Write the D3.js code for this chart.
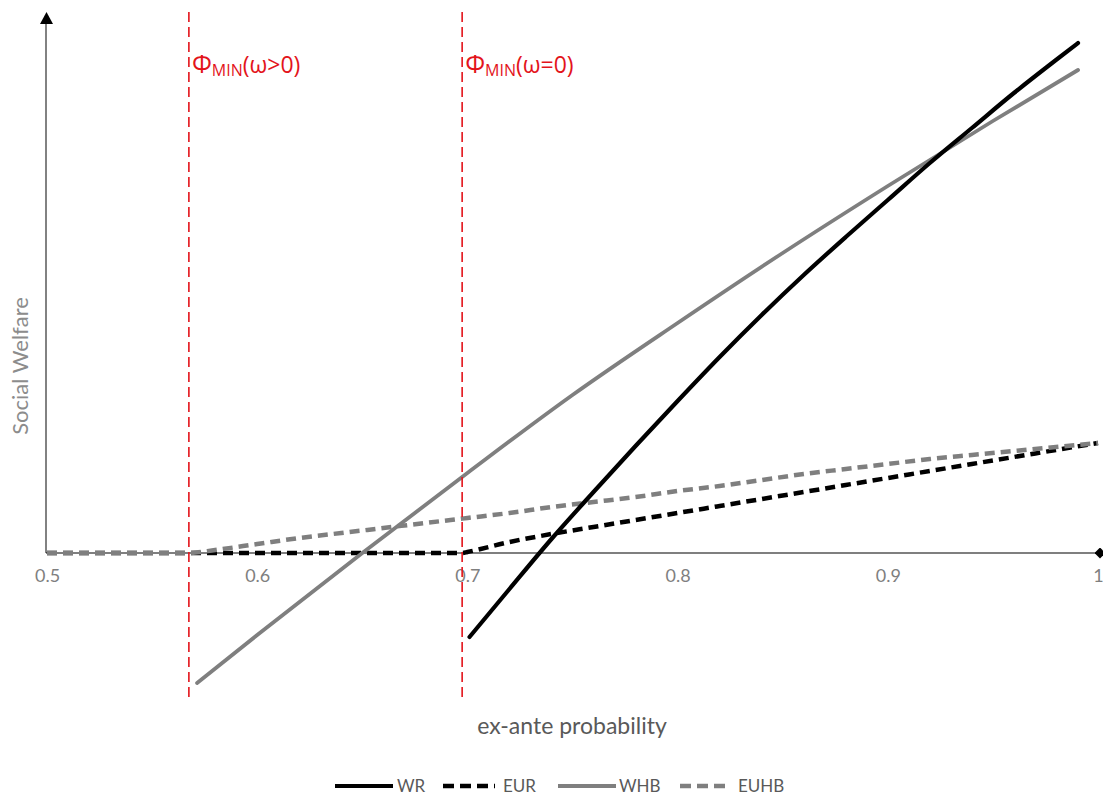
<!DOCTYPE html>
<html>
<head>
<meta charset="utf-8">
<script src="https://cdn.jsdelivr.net/npm/d3@7/dist/d3.min.js"></script>
<style>
  html, body { margin: 0; padding: 0; background: #fff; }
  svg { display: block; font-family: Lato, "Open Sans", sans-serif; }
</style>
</head>
<body>
<div id="chart"></div>
<script>
// x ticks and threshold probabilities
const xTicks = [0.5, 0.6, 0.7, 0.8, 0.9, 1];
const phiMin = [
  { x: 0.5675, label: 'ω>0' },
  { x: 0.6975, label: 'ω=0' }
];

// series values (arbitrary welfare units)
const wrX  = [0.701, 0.72, 0.74, 0.76, 0.78, 0.80, 0.82, 0.84, 0.86, 0.88, 0.90, 0.92, 0.94, 0.96, 0.98, 0.9905];
const wrY  = [-0.84, -0.36, 0.14, 0.61, 1.07, 1.52, 1.96, 2.38, 2.78, 3.16, 3.53, 3.90, 4.25, 4.60, 4.93, 5.10];

const eurX = [0.5, 0.6975, 0.70, 0.72, 0.74, 0.76, 0.78, 0.80, 0.82, 0.84, 0.86, 0.88, 0.90, 0.92, 0.94, 0.96, 0.98, 1.0];
const eurY = [0, 0, 0.01, 0.11, 0.19, 0.26, 0.33, 0.40, 0.47, 0.54, 0.61, 0.68, 0.75, 0.82, 0.89, 0.96, 1.03, 1.10];

const whbX = [0.5714, 0.60, 0.65, 0.70, 0.75, 0.80, 0.85, 0.90, 0.95, 0.9905];
const whbY = [-1.30, -0.82, 0.00, 0.80, 1.58, 2.30, 3.00, 3.67, 4.32, 4.83];

const euhbX = [0.5, 0.5675, 0.58, 0.60, 0.62, 0.64, 0.66, 0.68, 0.70, 0.72, 0.74, 0.76, 0.78, 0.80, 0.82, 0.84, 0.86, 0.88, 0.90, 0.92, 0.94, 0.96, 0.98, 1.0];
const euhbY = [0, 0, 0.03, 0.09, 0.15, 0.20, 0.25, 0.30, 0.35, 0.40, 0.46, 0.51, 0.56, 0.62, 0.67, 0.73, 0.79, 0.84, 0.89, 0.94, 0.98, 1.02, 1.06, 1.10];

const zip = (xs, ys) => xs.map((x, i) => ({ x, y: ys[i] }));

// drawing order: EUR under EUHB so the shared zero segment shows grey
const series = [
  { name: 'EUR',  pts: zip(eurX, eurY),   color: '#000',    width: 4.5, dash: '10,6' },
  { name: 'EUHB', pts: zip(euhbX, euhbY), color: '#7f7f7f', width: 4.5, dash: '10,6' },
  { name: 'WHB',  pts: zip(whbX, whbY),   color: '#7f7f7f', width: 3.8, dash: null },
  { name: 'WR',   pts: zip(wrX, wrY),     color: '#000',    width: 4.2, dash: null }
];
const legendOrder = ['WR', 'EUR', 'WHB', 'EUHB'];

const W = 1103, H = 796;
const svg = d3.select('#chart').append('svg').attr('width', W).attr('height', H);

const x = d3.scaleLinear().domain([0.5, 1]).range([47, 1098]);
const y = d3.scaleLinear().domain([0, 5]).range([553, 53]);

const defs = svg.append('defs');
defs.append('marker').attr('id', 'diamond')
  .attr('viewBox', '0 0 10 10').attr('refX', 5).attr('refY', 5)
  .attr('markerWidth', 11).attr('markerHeight', 11).attr('markerUnits', 'userSpaceOnUse')
  .append('path').attr('d', 'M0,5 L5,0 L10,5 L5,10 Z').attr('fill', '#000');

// y axis (arrow at top)
svg.append('line')
  .attr('x1', 46).attr('x2', 46).attr('y1', y(0)).attr('y2', 24)
  .attr('stroke', '#595959').attr('stroke-width', 1.5);
svg.append('path').attr('d', `M40,24 L46.5,12 L53,24 Z`).attr('fill', '#000');

// x axis line with diamond end
svg.append('line')
  .attr('x1', 46).attr('x2', 1100).attr('y1', y(0)).attr('y2', y(0))
  .attr('stroke', '#000').attr('stroke-width', 1.2)
  .attr('marker-end', 'url(#diamond)');

const xAxis = d3.axisBottom(x).tickValues(xTicks).tickSize(0).tickPadding(16)
  .tickFormat(d => d === 1 ? '1' : d3.format('.1f')(d));
const gx = svg.append('g').attr('transform', `translate(0,${y(0)})`).call(xAxis);
gx.select('.domain').remove();
gx.selectAll('text').attr('fill', '#7f7f7f').attr('font-size', 18).attr('font-family', 'Lato, sans-serif');

// series
const line = d3.line().x(d => x(d.x)).y(d => y(d.y)).curve(d3.curveMonotoneX);
svg.append('g').selectAll('path').data(series).join('path')
  .attr('d', d => line(d.pts))
  .attr('fill', 'none')
  .attr('stroke', d => d.color)
  .attr('stroke-width', d => d.width)
  .attr('stroke-dasharray', d => d.dash)
  .attr('stroke-linejoin', 'round')
  .attr('stroke-linecap', d => d.dash ? 'butt' : 'round');

// threshold lines and labels
const th = svg.append('g').selectAll('g').data(phiMin).join('g');
th.append('line')
  .attr('x1', d => x(d.x)).attr('x2', d => x(d.x))
  .attr('y1', 12).attr('y2', 700)
  .attr('stroke', '#e3141b').attr('stroke-width', 1.6)
  .attr('stroke-dasharray', '10,5');
const lbl = th.append('text')
  .attr('x', d => x(d.x) + 3).attr('y', 73)
  .attr('fill', '#e3141b').attr('font-family', '"Open Sans", sans-serif');
lbl.append('tspan').attr('font-size', 25).text('Φ');
lbl.append('tspan').attr('font-size', 16).attr('dy', 3).text('MIN');
lbl.append('tspan').attr('font-size', 23).attr('dy', -3).text(d => `(${d.label})`);

// axis titles
svg.append('text')
  .attr('transform', `translate(28,366) rotate(-90)`)
  .attr('text-anchor', 'middle')
  .attr('fill', '#8c8c8c').attr('font-size', 22)
  .text('Social Welfare');
svg.append('text')
  .attr('x', 572).attr('y', 734)
  .attr('text-anchor', 'middle')
  .attr('fill', '#595959').attr('font-size', 23)
  .text('ex-ante probability');

// legend
const legend = {
  WR:   { x0: 335, x1: 393, tx: 397 },
  EUR:  { x0: 443, x1: 495, tx: 503 },
  WHB:  { x0: 558, x1: 616, tx: 619 },
  EUHB: { x0: 680, x1: 728, tx: 738 }
};
const lg = svg.append('g').selectAll('g')
  .data(legendOrder.map(n => series.find(s => s.name === n))).join('g')
  .attr('transform', 'translate(0,786)');
lg.append('line')
  .attr('x1', d => legend[d.name].x0).attr('x2', d => legend[d.name].x1)
  .attr('stroke', d => d.color).attr('stroke-width', d => d.width)
  .attr('stroke-dasharray', d => d.dash ? '11,6' : null);
lg.append('text')
  .attr('x', d => legend[d.name].tx)
  .attr('y', 6)
  .attr('fill', '#595959').attr('font-size', 17)
  .text(d => d.name);
</script>
</body>
</html>
